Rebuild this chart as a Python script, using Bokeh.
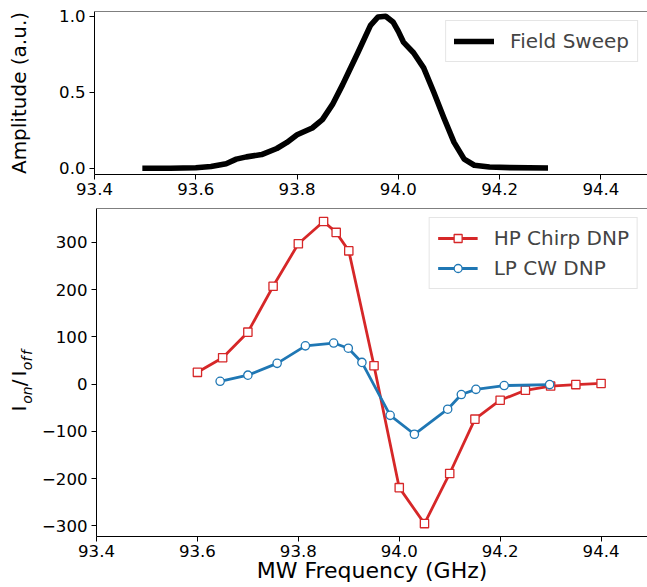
import numpy as np
from bokeh.plotting import figure
from bokeh.layouts import column, row
from bokeh.models import FixedTicker, Range1d, Span, Label, Legend, LegendItem
from bokeh.embed import file_html
from bokeh.resources import INLINE

# ---------------- data ----------------
sweep_freq = [93.50, 93.55, 93.60, 93.63, 93.66, 93.68, 93.70, 93.73, 93.76, 93.78,
              93.80, 93.83, 93.85, 93.87, 93.89, 93.90, 93.92, 93.945, 93.96, 93.975,
              93.99, 94.00, 94.01, 94.03, 94.05, 94.07, 94.09, 94.11, 94.13, 94.15,
              94.18, 94.22, 94.29]
sweep_amp = [0.000, 0.000, 0.003, 0.012, 0.030, 0.060, 0.075, 0.090, 0.130, 0.170,
             0.220, 0.265, 0.320, 0.420, 0.550, 0.620, 0.760, 0.940, 0.995, 1.000,
             0.960, 0.900, 0.830, 0.760, 0.660, 0.500, 0.330, 0.170, 0.060, 0.020,
             0.008, 0.004, 0.002]

chirp_freq = [93.60, 93.65, 93.70, 93.75, 93.80, 93.85, 93.875, 93.90, 93.95, 94.00,
              94.05, 94.10, 94.15, 94.20, 94.25, 94.30, 94.35, 94.40]
chirp_enh = [25, 56, 110, 207, 297, 344, 321, 282, 39, -219,
             -295, -189, -74, -34, -13, -4, -1, 1.5]

cw_freq = [93.645, 93.70, 93.758, 93.814, 93.870, 93.899, 93.926, 93.982, 94.030, 94.096,
           94.123, 94.152, 94.208, 94.298]
cw_enh = [6, 19, 44, 81, 87, 76, 46, -66, -106, -53,
          -22, -11, -3, -1]

x_ticks = [93.4, 93.6, 93.8, 94.0, 94.2, 94.4]
amp_ticks = [0.0, 0.5, 1.0]
enh_ticks = [-300, -200, -100, 0, 100, 200, 300]

# ---------------- styling ----------------
FONT = "DejaVu Sans"
S = 38            # width of the label strip on the left
W = 647 - S       # width of each plot
H1, H2 = 203, 384
RED = "#d62728"
BLUE = "#1f77b4"
X_RANGE = (93.4, 94.492)


def fmt_num(v, dec):
    s = f"{v:.{dec}f}"
    return s.replace("-", "\u2212")


def style(p, yticks, ydec):
    p.outline_line_color = None
    p.xgrid.visible = False
    p.ygrid.visible = False
    p.background_fill_color = "white"
    p.border_fill_color = "white"
    for ax in (p.xaxis[0], p.yaxis[0]):
        ax.axis_line_color = "black"
        ax.axis_line_width = 1
        ax.major_tick_line_color = "black"
        ax.major_tick_line_width = 1
        ax.major_tick_out = 5
        ax.major_tick_in = 0
        ax.minor_tick_line_color = None
        ax.major_label_text_font = FONT
        ax.major_label_text_font_size = "16.6px"
        ax.major_label_text_color = "black"
        ax.axis_label_text_font = FONT
        ax.axis_label_text_font_style = "normal"
        ax.axis_label_text_color = "black"
    p.xaxis[0].major_label_standoff = 3
    p.yaxis[0].major_label_standoff = 4
    p.xaxis[0].ticker = FixedTicker(ticks=x_ticks)
    p.xaxis[0].major_label_overrides = {t: fmt_num(t, 1) for t in x_ticks}
    p.yaxis[0].ticker = FixedTicker(ticks=yticks)
    p.yaxis[0].major_label_overrides = {t: fmt_num(t, ydec) for t in yticks}
    # top frame line (right side of the frame is cropped in the reference)
    p.add_layout(Span(location=p.y_range.end, dimension="width",
                      line_color="black", line_width=1))


def strip(h):
    s = figure(width=S, height=h, output_backend="svg", toolbar_location=None,
               x_range=Range1d(0, S), y_range=Range1d(0, h),
               x_axis_location=None, y_axis_location=None, min_border=0,
               frame_align=False)
    s.outline_line_color = None
    s.grid.visible = False
    s.background_fill_color = "white"
    s.border_fill_color = "white"
    return s


def vlabel(fig, h_off, text, size, style_, baseline_x, center_y):
    """Rotated (reading upward) text, anchored at its centre; page coords."""
    fig.add_layout(Label(x=baseline_x - 0.346 * size, y=h_off - center_y, text=text,
                         angle=np.pi / 2, text_align="center", text_baseline="middle",
                         text_font=FONT, text_font_size=f"{size}px",
                         text_font_style=style_, text_color="black"))


# ---------------- top panel ----------------
p1 = figure(width=W, height=H1, output_backend="svg", toolbar_location=None,
            x_range=Range1d(*X_RANGE), y_range=Range1d(-0.041, 1.031),
            min_border_top=11, min_border_bottom=29, min_border_left=56,
            min_border_right=0)
style(p1, amp_ticks, 1)

r_sweep = p1.line(sweep_freq, sweep_amp, line_color="black", line_width=5.6,
                  line_join="round", line_cap="square")
leg1 = Legend(items=[LegendItem(label="Field Sweep", renderers=[r_sweep])],
              location="top_right", margin=9, padding=8, spacing=10,
              glyph_width=40, glyph_height=20, label_standoff=16,
              label_text_font=FONT, label_text_font_size="20px",
              border_line_color="#cccccc", border_line_width=1,
              background_fill_color="white", background_fill_alpha=0.8)
p1.add_layout(leg1)

s1 = strip(H1)
vlabel(s1, H1, "Amplitude (a.u.)", 20, "normal", 25.5, 92.5)

# ---------------- bottom panel ----------------
p2 = figure(width=W, height=H2, output_backend="svg", toolbar_location=None,
            x_range=Range1d(*X_RANGE), y_range=Range1d(-322.3, 371.6),
            min_border_top=5, min_border_bottom=51, min_border_left=56,
            min_border_right=0)
style(p2, enh_ticks, 0)
p2.xaxis[0].axis_label = "MW Frequency (GHz)"
p2.xaxis[0].axis_label_text_font_size = "22px"
p2.xaxis[0].axis_label_standoff = -2

r_chirp_l = p2.line(chirp_freq, chirp_enh, line_color=RED, line_width=2.8)
r_chirp_m = p2.scatter(chirp_freq, chirp_enh, marker="square", size=8.3,
                       line_color=RED, line_width=1.3, fill_color="white")
r_cw_l = p2.line(cw_freq, cw_enh, line_color=BLUE, line_width=2.8)
r_cw_m = p2.scatter(cw_freq, cw_enh, marker="circle", size=8.3,
                    line_color=BLUE, line_width=1.3, fill_color="white")

leg2 = Legend(items=[LegendItem(label="HP Chirp DNP", renderers=[r_chirp_l, r_chirp_m]),
                     LegendItem(label="LP CW DNP", renderers=[r_cw_l, r_cw_m])],
              location="top_right", margin=9, padding=8, spacing=6,
              glyph_width=40, glyph_height=20, label_standoff=16,
              label_text_font=FONT, label_text_font_size="20px",
              border_line_color="#cccccc", border_line_width=1,
              background_fill_color="white", background_fill_alpha=0.8)
p2.add_layout(leg2)

# y label I_on/I_off built from pieces (page coordinates: baseline x, centre y)
s2 = strip(H2)
TOTAL_H = H1 + H2
pieces = [("I", 20, "normal", 25.5, 408.0),
          ("on", 14, "italic", 31.0, 394.5),
          ("/", 20, "normal", 25.5, 382.5),
          ("I", 20, "normal", 25.5, 373.0),
          ("o", 14, "italic", 31.0, 365.5),
          ("f", 14, "italic", 31.0, 358.5),
          ("f", 14, "italic", 31.0, 352.0)]
for txt, sz, sty, bx, cy in pieces:
    vlabel(s2, TOTAL_H, txt, sz, sty, bx, cy)

layout = column(row(s1, p1, spacing=0), row(s2, p2, spacing=0), spacing=0)
open("out.html", "w").write(file_html(layout, INLINE))
